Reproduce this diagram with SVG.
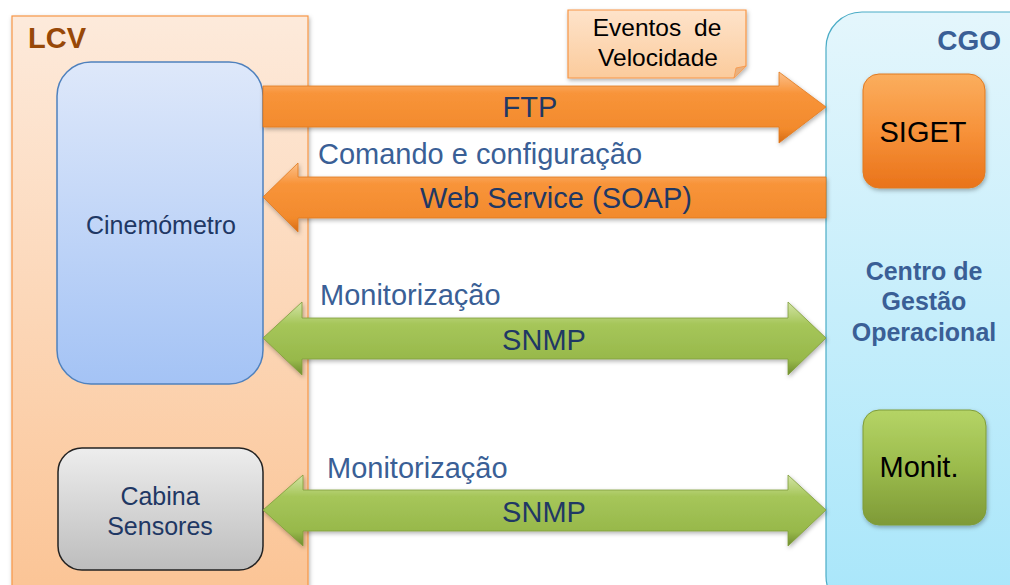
<svg xmlns="http://www.w3.org/2000/svg" width="1010" height="585" viewBox="0 0 1010 585">
<defs>
<linearGradient id="gLcv" x1="0" y1="0" x2="0" y2="1"><stop offset="0" stop-color="#FDEADB"/><stop offset="1" stop-color="#FBC495"/></linearGradient>
<linearGradient id="gCgo" x1="0" y1="0" x2="0" y2="1"><stop offset="0" stop-color="#E4F6FC"/><stop offset="1" stop-color="#A8E6FA"/></linearGradient>
<linearGradient id="gBlue" x1="0" y1="0" x2="0" y2="1"><stop offset="0" stop-color="#DEE8FA"/><stop offset="1" stop-color="#A4C3F5"/></linearGradient>
<linearGradient id="gGray" x1="0" y1="0" x2="0" y2="1"><stop offset="0" stop-color="#EDEDED"/><stop offset="1" stop-color="#BDBDBD"/></linearGradient>
<linearGradient id="gOrangeBox" x1="0" y1="0" x2="0" y2="1"><stop offset="0" stop-color="#FBAE5E"/><stop offset="0.5" stop-color="#F7923A"/><stop offset="1" stop-color="#E9731A"/></linearGradient>
<linearGradient id="gGreenBox" x1="0" y1="0" x2="0" y2="1"><stop offset="0" stop-color="#B5D466"/><stop offset="0.5" stop-color="#9BBB4C"/><stop offset="1" stop-color="#7E9A37"/></linearGradient>
<linearGradient id="gNote" x1="0" y1="0" x2="0" y2="1"><stop offset="0" stop-color="#FEE3CA"/><stop offset="1" stop-color="#FBCB9C"/></linearGradient>
<linearGradient id="gOrangeArrow" x1="0" y1="0" x2="0" y2="1"><stop offset="0" stop-color="#FCC08A"/><stop offset="0.3" stop-color="#F8943A"/><stop offset="0.8" stop-color="#F28A2C"/><stop offset="1" stop-color="#D66A14"/></linearGradient>
<linearGradient id="gGreenArrow" x1="0" y1="0" x2="0" y2="1"><stop offset="0" stop-color="#D3E4A6"/><stop offset="0.3" stop-color="#A6C65A"/><stop offset="0.8" stop-color="#97B84A"/><stop offset="1" stop-color="#6F8C2E"/></linearGradient>
<filter id="sh" x="-10%" y="-10%" width="130%" height="140%"><feDropShadow dx="1" dy="2" stdDeviation="2" flood-color="#000" flood-opacity="0.3"/></filter>
</defs>
<style>
text{font-family:"Liberation Sans",Arial,sans-serif;}
.lbl{fill:#1F3864;font-size:29px;text-anchor:middle;}
.side{fill:#3A5F96;font-size:29px;}
.blk{fill:#000;text-anchor:middle;}
.arrowO{fill:url(#gOrangeArrow);stroke:#E07A20;stroke-width:0.8;filter:url(#sh);}
.arrowG{fill:url(#gGreenArrow);stroke:#7E9C3A;stroke-width:0.8;filter:url(#sh);}
</style>
<rect width="1010" height="585" fill="#fff"/>

<g id="lcv">
<rect x="12" y="16" width="296" height="580" fill="url(#gLcv)" stroke="#F79646" stroke-width="1.2" filter="url(#sh)"/>
<text x="28" y="48" font-size="29" font-weight="bold" fill="#984807">LCV</text>
</g>

<g id="cgo">
<rect x="826" y="12" width="220" height="600" rx="36" fill="url(#gCgo)" stroke="#4BACC6" stroke-width="1.2"/>
<text x="1001" y="50" font-size="28" font-weight="bold" fill="#3A5F96" text-anchor="end">CGO</text>
<text x="924" y="280" font-size="25" font-weight="bold" fill="#3A5F96" text-anchor="middle">Centro de</text>
<text x="924" y="310" font-size="25" font-weight="bold" fill="#3A5F96" text-anchor="middle">Gestão</text>
<text x="924" y="341" font-size="25" font-weight="bold" fill="#3A5F96" text-anchor="middle">Operacional</text>
</g>

<g id="cinemometro">
<rect x="57" y="62" width="206" height="322" rx="34" fill="url(#gBlue)" stroke="#4F81BD" stroke-width="1.5"/>
<text x="161" y="234" font-size="25" fill="#1F3864" text-anchor="middle">Cinemómetro</text>
</g>

<g id="cabina">
<rect x="58" y="448" width="205" height="122" rx="24" fill="url(#gGray)" stroke="#222" stroke-width="1.5"/>
<text x="160" y="505" font-size="25" fill="#1F3864" text-anchor="middle">Cabina</text>
<text x="160" y="535" font-size="25" fill="#1F3864" text-anchor="middle">Sensores</text>
</g>

<g id="siget">
<rect x="863" y="74" width="122" height="114" rx="16" fill="url(#gOrangeBox)" stroke="#E07A20" stroke-width="1" filter="url(#sh)"/>
<text class="blk" x="923" y="142" font-size="29">SIGET</text>
</g>

<g id="monit">
<rect x="863" y="410" width="123" height="115" rx="16" fill="url(#gGreenBox)" stroke="#7E9C3A" stroke-width="1" filter="url(#sh)"/>
<text class="blk" x="919" y="477" font-size="29">Monit.</text>
</g>

<g id="eventos">
<path d="M568,10 H746 V66 L734,78 H568 Z" fill="url(#gNote)" stroke="#F79646" stroke-width="1.2" filter="url(#sh)"/>
<path d="M746,66 L736,68 L734,78" fill="#E9B07E" stroke="#F79646" stroke-width="0.8"/>
<text class="blk" x="657" y="36" font-size="24.5" word-spacing="6">Eventos de</text>
<text class="blk" x="658" y="66" font-size="24.5">Velocidade</text>
</g>

<g id="connectors">
<path class="arrowO" d="M263,86 H779 V72 L826,107 L779,143 V127 H263 Z"/>
<text class="lbl" x="530" y="117">FTP</text>

<text class="side" x="318" y="164">Comando e configuração</text>
<path class="arrowO" d="M826,177 H298 V163 L263,197 L298,232 V218 H826 Z"/>
<text class="lbl" x="556" y="208">Web Service (SOAP)</text>

<text class="side" x="320" y="305">Monitorização</text>
<path class="arrowG" d="M263,338 L302,302 V318 H788 V302 L826,338 L788,375 V359 H302 V375 Z"/>
<text class="lbl" x="544" y="350">SNMP</text>

<text class="side" x="327" y="478">Monitorização</text>
<path class="arrowG" d="M263,510 L303,475 V490 H788 V475 L826,510 L788,546 V531 H303 V546 Z"/>
<text class="lbl" x="544" y="522">SNMP</text>
</g>
</svg>
